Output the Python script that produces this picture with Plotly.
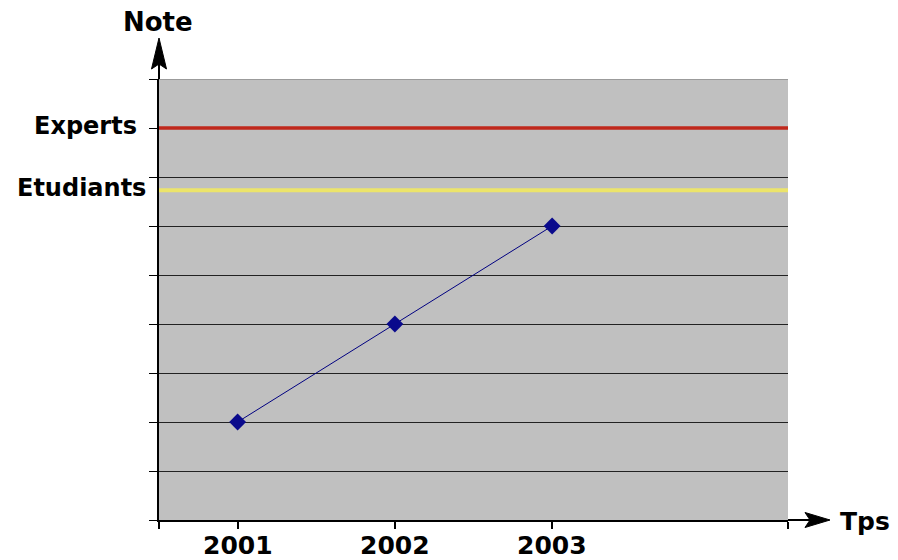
import plotly.graph_objects as go

years = [2001, 2002, 2003]
notes = [2, 4, 6]
year_labels = ["2001", "2002", "2003"]
experts_level = 8
etudiants_level = 6.73
x_tickvals = [2000.5, 2001, 2002, 2003, 2004.5]
y_tickvals = [0, 1, 2, 3, 4, 5, 6, 7, 8, 9]

FONT = "DejaVu Sans"
x0, x1 = 2000.5, 2004.5
y0, y1 = 0, 9

fig = go.Figure()

fig.add_trace(go.Scatter(
    x=years, y=notes, mode="lines+markers",
    line=dict(color="#000080", width=1),
    marker=dict(symbol="diamond", size=13, color="#0a0a8c"),
    showlegend=False, cliponaxis=False,
))

fig.add_shape(type="line", xref="x", yref="y", x0=x0, x1=x1, y0=experts_level, y1=experts_level,
              line=dict(color="#c0281c", width=3.5), layer="above")
fig.add_shape(type="line", xref="x", yref="y", x0=x0, x1=x1, y0=etudiants_level, y1=etudiants_level,
              line=dict(color="#ece46a", width=4), layer="above")
# top border of plot area
fig.add_shape(type="line", xref="x", yref="y", x0=x0, x1=x1, y0=y1, y1=y1,
              line=dict(color="#777777", width=1), layer="below")

# vertical axis arrow (pixel-sized, anchored at top-left corner of plot area)
fig.add_shape(type="line", xref="paper", yref="paper", xsizemode="pixel", ysizemode="pixel",
              xanchor=0, yanchor=1, x0=0, x1=0, y0=0, y1=18,
              line=dict(color="black", width=2))
fig.add_shape(type="path", xref="paper", yref="paper", xsizemode="pixel", ysizemode="pixel",
              xanchor=0, yanchor=1, path="M0,41 L-7.5,10 L0,15 L7.5,10 Z",
              fillcolor="black", line=dict(color="black", width=1))
# horizontal axis arrow (anchored at bottom-right corner of plot area)
fig.add_shape(type="line", xref="paper", yref="paper", xsizemode="pixel", ysizemode="pixel",
              xanchor=1, yanchor=0, x0=0, x1=24, y0=0, y1=0,
              line=dict(color="black", width=2))
fig.add_shape(type="path", xref="paper", yref="paper", xsizemode="pixel", ysizemode="pixel",
              xanchor=1, yanchor=0, path="M42,0 L17,7.5 L22,0 L17,-7.5 Z",
              fillcolor="black", line=dict(color="black", width=1))

fig.add_annotation(x=0, y=1, xref="paper", yref="paper", xshift=-1, yshift=57, text="Note",
                   showarrow=False, font=dict(family=FONT, size=26, color="black", weight="bold"),
                   xanchor="center", yanchor="middle")
fig.add_annotation(x=1, y=0, xref="paper", yref="paper", xshift=50, yshift=-1, text="Tps",
                   showarrow=False, font=dict(family=FONT, size=25, color="black", weight="bold"),
                   xanchor="left", yanchor="middle")
fig.add_annotation(x=0, y=experts_level, xref="paper", yref="y", xshift=-20, yshift=2, text="Experts",
                   showarrow=False, font=dict(family=FONT, size=24, color="black", weight="bold"),
                   xanchor="right", yanchor="middle")
fig.add_annotation(x=0, y=etudiants_level, xref="paper", yref="y", xshift=-11, yshift=2, text="Etudiants",
                   showarrow=False, font=dict(family=FONT, size=24, color="black", weight="bold"),
                   xanchor="right", yanchor="middle")
for yr, lab in zip(years, year_labels):
    fig.add_annotation(x=yr, y=y0, xref="x", yref="y", yshift=-25, text=lab,
                       showarrow=False, font=dict(family=FONT, size=25, color="black", weight="bold"),
                       xanchor="center", yanchor="middle")

fig.update_xaxes(range=[x0, x1], tickvals=x_tickvals, showticklabels=False, automargin=False,
                 showgrid=False, zeroline=False, showline=True, linecolor="black", linewidth=2,
                 ticks="outside", ticklen=7, tickwidth=1.5, tickcolor="black")
fig.update_yaxes(range=[y0, y1], tickvals=y_tickvals, showticklabels=False, automargin=False,
                 showgrid=True, gridcolor="#222222", gridwidth=1.3, zeroline=False,
                 showline=True, linecolor="black", linewidth=2,
                 ticks="outside", ticklen=8, tickwidth=1.3, tickcolor="black")

fig.update_layout(width=898, height=560, margin=dict(l=151, r=118, t=71, b=48),
                  plot_bgcolor="#c0c0c0", paper_bgcolor="white", showlegend=False)

fig.write_html("out.html")
